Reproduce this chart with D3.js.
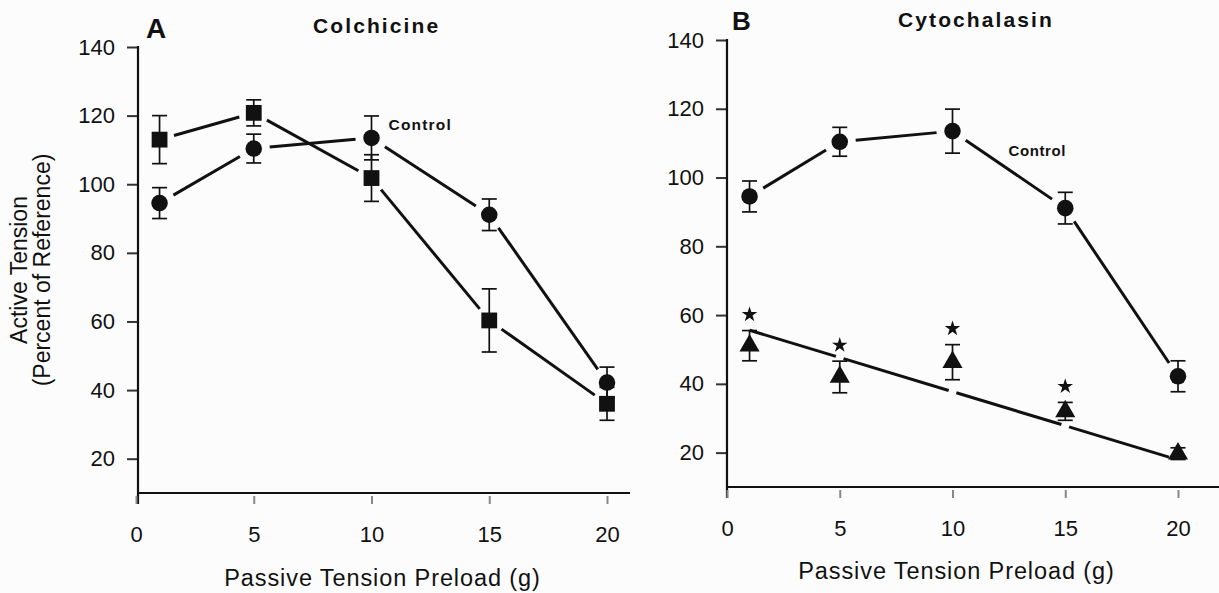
<!DOCTYPE html>
<html>
<head>
<meta charset="utf-8">
<script src="https://cdn.jsdelivr.net/npm/d3@7"></script>
<style>
  html, body { margin: 0; padding: 0; background: #fcfcfc; }
  svg { display: block; font-family: "Liberation Sans", Arial, Helvetica, sans-serif; }
</style>
</head>
<body>
<svg id="chart" width="1219" height="593"></svg>
<script>
// Passive tension preload (g) at which each contraction was measured
const preload = [1, 5, 10, 15, 20];
const xTicks = [0, 5, 10, 15, 20];
const yTicks = [20, 40, 60, 80, 100, 120, 140];

// Active tension, percent of reference (mean and SEM)
const controlMean = [94.5, 110.4, 113.5, 91.1, 42.2];
const controlSem  = [4.5, 4.2, 6.4, 4.6, 4.5];
const colchicineMean = [113, 120.8, 101.8, 60.3, 36];
const colchicineSem  = [7, 3.8, 6.8, 9.2, 4.8];
const cytochalasinMean = [51.1, 42, 46.3, 32, 19.7];
const cytochalasinSem  = [4.4, 4.6, 5.1, 2.6, 1.7];
// significant difference from control (star)
const cytochalasinSig = [true, true, true, true, false];
// regression line through the cytochalasin points (end points)
const cytochalasinFitX = [1, 19.6];
const cytochalasinFitY = [55.6, 18.7];

const svg = d3.select("#chart");
const ink = "#111";

function zip(xs, ys, es) {
  return xs.map((x, i) => ({ x, y: ys[i], e: es ? es[i] : 0 }));
}

// Panel geometry
const panels = [
  { key: "A", title: "Colchicine", x0: 136, x1: 607, axisRight: 630, yTop: 47, yBot: 493, axisX: 138 },
  { key: "B", title: "Cytochalasin", x0: 727, x1: 1178, axisRight: 1219, yTop: 40, yBot: 487, axisX: 727 }
];

function drawAxes(p) {
  const x = d3.scaleLinear().domain([0, 20]).range([p.x0, p.x1]);
  const y = d3.scaleLinear().domain([10, 140]).range([p.yBot, p.yTop]);
  const g = svg.append("g");

  // y axis
  const ya = g.append("g").attr("transform", `translate(${p.axisX},0)`)
    .call(d3.axisLeft(y).tickValues(yTicks).tickSize(11).tickPadding(12).tickFormat(d3.format("d")));
  ya.select(".domain").remove();
  ya.selectAll(".tick line").attr("stroke", "#333").attr("stroke-width", 2);
  ya.selectAll(".tick text").attr("font-size", 22).attr("fill", ink);
  g.append("line").attr("x1", p.axisX).attr("x2", p.axisX)
    .attr("y1", y(140) - 1).attr("y2", p.yBot + 11)
    .attr("stroke", ink).attr("stroke-width", 2.2);

  // x axis
  const xa = g.append("g").attr("transform", `translate(0,${p.yBot})`)
    .call(d3.axisBottom(x).tickValues(xTicks).tickSize(11).tickPadding(22).tickFormat(d3.format("d")));
  xa.select(".domain").remove();
  xa.selectAll(".tick line").attr("stroke", "#888").attr("stroke-width", 2).attr("y1", 3);
  xa.selectAll(".tick text").attr("font-size", 22).attr("fill", ink);
  g.append("line").attr("x1", p.axisX).attr("x2", p.axisRight)
    .attr("y1", p.yBot).attr("y2", p.yBot)
    .attr("stroke", ink).attr("stroke-width", 2.2);

  // x title
  g.append("text")
    .attr("x", (p.x0 + p.x1) / 2 + 8 + (p.key === "A" ? 3 : -4))
    .attr("y", p.key === "A" ? 586 : 579)
    .attr("text-anchor", "middle")
    .attr("font-size", 23.5).attr("letter-spacing", 0.9).attr("fill", ink)
    .text("Passive Tension Preload (g)");

  // panel letter and title
  g.append("text")
    .attr("x", p.key === "A" ? 146 : 732).attr("y", p.key === "A" ? 38 : 30)
    .attr("font-size", p.key === "A" ? 28 : 26).attr("font-weight", "bold").attr("fill", ink)
    .text(p.key);
  g.append("text")
    .attr("x", p.key === "A" ? 313 : 898).attr("y", p.key === "A" ? 33 : 27)
    .attr("font-size", 21).attr("font-weight", "bold").attr("letter-spacing", 2.1).attr("fill", ink)
    .text(p.title);

  return { x, y };
}

// Straight segments between neighbouring points, stopped short of the markers
function gappedSegments(g, pts, gap, width) {
  for (let i = 0; i < pts.length - 1; i++) {
    const a = pts[i], b = pts[i + 1];
    const dx = b[0] - a[0], dy = b[1] - a[1];
    const len = Math.hypot(dx, dy);
    const ux = dx / len, uy = dy / len;
    g.append("line")
      .attr("x1", a[0] + ux * gap[0]).attr("y1", a[1] + uy * gap[0])
      .attr("x2", b[0] - ux * gap[1]).attr("y2", b[1] - uy * gap[1])
      .attr("stroke", ink).attr("stroke-width", width).attr("stroke-linecap", "butt");
  }
}

function errorBars(g, data, s) {
  const cap = 7.5;
  data.forEach(d => {
    const cx = s.x(d.x), yt = s.y(d.y + d.e), yb = s.y(d.y - d.e);
    g.append("line").attr("x1", cx).attr("x2", cx).attr("y1", yt).attr("y2", yb)
      .attr("stroke", ink).attr("stroke-width", 1.7);
    [yt, yb].forEach(yy => g.append("line")
      .attr("x1", cx - cap).attr("x2", cx + cap).attr("y1", yy).attr("y2", yy)
      .attr("stroke", ink).attr("stroke-width", 1.7));
  });
}

function markers(g, data, s, type, size) {
  g.selectAll(null).data(data).enter().append("path")
    .attr("transform", d => `translate(${s.x(d.x)},${s.y(d.y)})`)
    .attr("d", d3.symbol().type(type).size(size))
    .attr("fill", ink);
}

// ---------- Panel A: colchicine ----------
const sA = drawAxes(panels[0]);
const gA = svg.append("g");
const ctrl = zip(preload, controlMean, controlSem);
const colc = zip(preload, colchicineMean, colchicineSem);
gappedSegments(gA, ctrl.map(d => [sA.x(d.x), sA.y(d.y)]), [16, 16], 3);
gappedSegments(gA, colc.map(d => [sA.x(d.x), sA.y(d.y)]), [15, 15], 3);
errorBars(gA, ctrl, sA);
errorBars(gA, colc, sA);
markers(gA, ctrl, sA, d3.symbolCircle, 215);
markers(gA, colc, sA, d3.symbolSquare, 250);
gA.append("text")
  .attr("x", sA.x(10) + 17).attr("y", sA.y(controlMean[2]) - 8)
  .attr("font-size", 15.5).attr("font-weight", "bold").attr("letter-spacing", 1.2).attr("fill", ink)
  .text("Control");

// ---------- Panel B: cytochalasin ----------
const sB = drawAxes(panels[1]);
const gB = svg.append("g");
const cyto = zip(preload, cytochalasinMean, cytochalasinSem);
gappedSegments(gB, ctrl.map(d => [sB.x(d.x), sB.y(d.y)]), [16, 16], 3);

// regression line, drawn in pieces broken at the interior preload values
const fit = d3.scaleLinear().domain(cytochalasinFitX).range(cytochalasinFitY);
const breaks = [cytochalasinFitX[0], ...preload.slice(1, 4), cytochalasinFitX[1]];
for (let i = 0; i < breaks.length - 1; i++) {
  const a = breaks[i], b = breaks[i + 1];
  const pa = [sB.x(a), sB.y(fit(a))], pb = [sB.x(b), sB.y(fit(b))];
  gappedSegments(gB, [pa, pb], [i === 0 ? 0 : 4, i === breaks.length - 2 ? 0 : 4], 3);
}

errorBars(gB, ctrl, sB);
errorBars(gB, cyto, sB);
markers(gB, ctrl, sB, d3.symbolCircle, 215);
markers(gB, cyto, sB, d3.symbolTriangle, 175);
// significance stars above the error bars
gB.selectAll(null).data(cyto.filter((d, i) => cytochalasinSig[i])).enter().append("path")
  .attr("transform", d => `translate(${sB.x(d.x)},${sB.y(d.y + d.e) - 16})`)
  .attr("d", d3.symbol().type(d3.symbolStar).size(75))
  .attr("fill", ink);
gB.append("text")
  .attr("x", sB.x(10) + 56).attr("y", sB.y(controlMean[2]) + 25)
  .attr("font-size", 15).attr("font-weight", "bold").attr("letter-spacing", 0.6).attr("fill", ink)
  .text("Control");

// shared y-axis title
const yTitle = svg.append("g").attr("transform", "translate(0,270) rotate(-90)");
yTitle.append("text").attr("x", 0).attr("y", 27).attr("text-anchor", "middle")
  .attr("font-size", 23).attr("fill", ink).text("Active Tension");
yTitle.append("text").attr("x", 0).attr("y", 50).attr("text-anchor", "middle")
  .attr("font-size", 23).attr("fill", ink).text("(Percent of Reference)");
</script>
</body>
</html>
